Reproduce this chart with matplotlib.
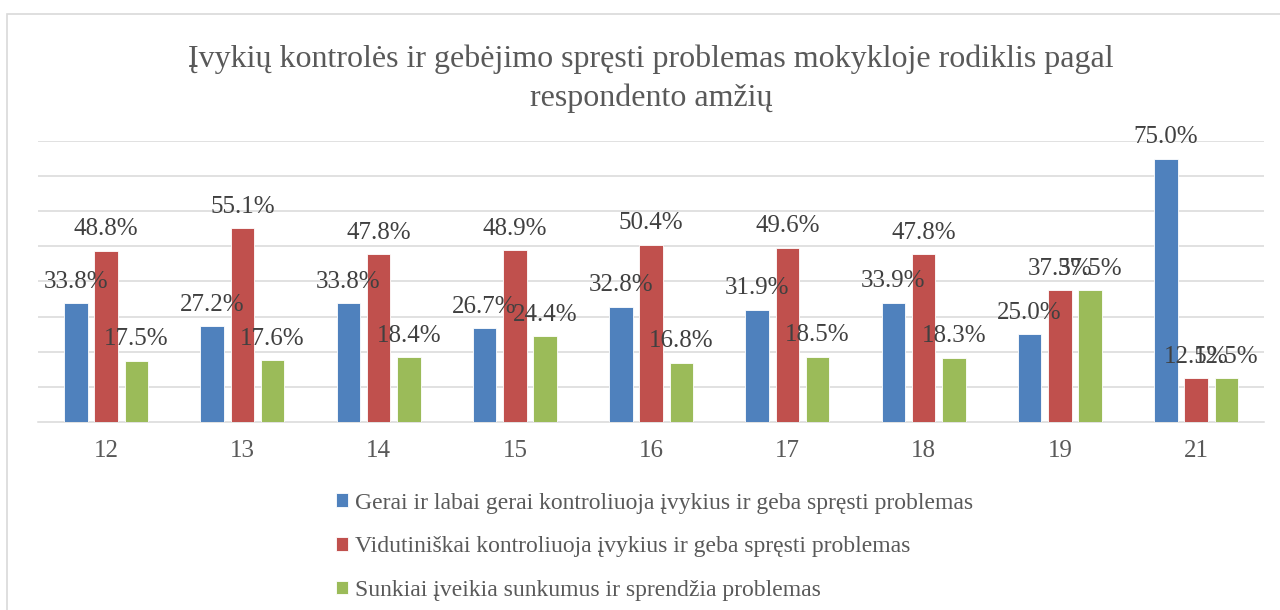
import numpy as np
import matplotlib.pyplot as plt
from matplotlib.patches import Rectangle

ages = ['12', '13', '14', '15', '16', '17', '18', '19', '21']
gerai = [33.8, 27.2, 33.8, 26.7, 32.8, 31.9, 33.9, 25.0, 75.0]
vidutiniskai = [48.8, 55.1, 47.8, 48.9, 50.4, 49.6, 47.8, 37.5, 12.5]
sunkiai = [17.5, 17.6, 18.4, 24.4, 16.8, 18.5, 18.3, 37.5, 12.5]
series_names = [
    'Gerai ir labai gerai kontroliuoja įvykius ir geba spręsti problemas',
    'Vidutiniškai kontroliuoja įvykius ir geba spręsti problemas',
    'Sunkiai įveikia sunkumus ir sprendžia problemas',
]
colors = ['#4F81BD', '#C0504D', '#9BBB59']

plt.rcParams['font.family'] = ['Liberation Serif', 'DejaVu Serif']

fig = plt.figure(figsize=(12.8, 6.1), dpi=100)
ax = fig.add_axes([0.0297, 0.3082, 0.958, 0.4607])

# chart frame
fig.patches.append(Rectangle((0.0055, -0.05), 1.1, 0.977 + 0.05, transform=fig.transFigure,
                             fill=False, edgecolor='#d9d9d9', linewidth=1.2))

x = np.arange(len(ages))
width = 0.173
step = 0.222
for i, (vals, name, c) in enumerate(zip([gerai, vidutiniskai, sunkiai], series_names, colors)):
    pos = x + (i - 1) * step
    bars = ax.bar(pos, vals, width, color=c, edgecolor='white', linewidth=0.6, label=name, zorder=3)
    for b, v in zip(bars, vals):
        ax.annotate(f'{v:.1f}%', (b.get_x() + b.get_width() / 2, v), xytext=(0, 15.5),
                    textcoords='offset points', ha='center', va='center',
                    fontsize=18, color='#404040', zorder=4)

ax.set_xlim(-0.5, len(ages) - 0.5)
ax.set_ylim(0, 80)
ax.set_yticks(np.arange(10, 81, 10))
ax.yaxis.grid(True, color='#d9d9d9', linewidth=1.1, zorder=0)
ax.tick_params(axis='y', left=False, labelleft=False)
ax.set_xticks(x)
ax.set_xticklabels(ages, fontsize=18, color='#595959')
ax.tick_params(axis='x', length=0, pad=13)
for s in ['top', 'right', 'left']:
    ax.spines[s].set_visible(False)
ax.spines['bottom'].set_color('#d9d9d9')
ax.spines['bottom'].set_linewidth(1.1)

fig.text(0.5086, 0.871, 'Įvykių kontrolės ir gebėjimo spręsti problemas mokykloje rodiklis pagal\nrespondento amžių',
         ha='center', va='center', fontsize=23, color='#595959', linespacing=1.42)

leg = fig.legend(loc='upper left', bbox_to_anchor=(0.255, 0.208), frameon=False,
                 fontsize=17, handlelength=0.5, handleheight=0.5, handletextpad=0.3,
                 labelspacing=0.96, borderaxespad=0, labelcolor='#595959')

plt.savefig('out.png', dpi=100)
